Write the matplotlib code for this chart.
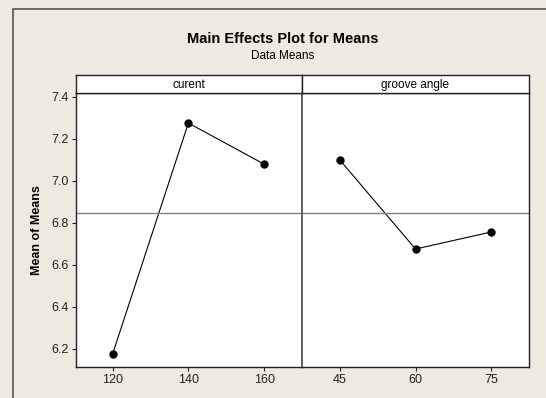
import matplotlib
matplotlib.use("Agg")
import matplotlib.pyplot as plt
from matplotlib.patches import Rectangle

current_levels = [120, 140, 160]
current_means = [6.176, 7.276, 7.08]
angle_levels = [45, 60, 75]
angle_means = [7.10, 6.676, 6.757]
grand_mean = 6.848
panel_names = ["curent", "groove angle"]
yticks = [6.2, 6.4, 6.6, 6.8, 7.0, 7.2, 7.4]

W, H = 546, 398
bg = "#EEEAE0"

plt.rcParams['font.family'] = ['Liberation Sans', 'DejaVu Sans']

fig = plt.figure(figsize=(W / 100, H / 100), dpi=100, facecolor=bg)

# outer frame (left and top edges visible)
fig.patches.append(Rectangle((13 / W, -0.1), 2, (H - 9) / H + 0.1, transform=fig.transFigure,
                             fill=False, edgecolor="#555555", linewidth=1.2))


def px_axes(x0, y0, x1, y1):
    return fig.add_axes([x0 / W, (H - y1) / H, (x1 - x0) / W, (y1 - y0) / H])


def panel(x0, x1, levels, means, xlim, name, first):
    ax = px_axes(x0, 93, x1, 367)
    ax.set_facecolor("white")
    ax.plot(levels, means, color="black", linewidth=0.8, marker="o", markersize=5)
    ax.axhline(grand_mean, color="#808080", linewidth=1.0)
    ax.set_xlim(*xlim)
    ax.set_ylim(6.114, 7.419)
    ax.set_xticks(levels)
    ax.set_yticks(yticks)
    ax.tick_params(length=3, width=0.8, labelsize=9, colors="#222222", pad=2)
    ax.tick_params(axis="y", left=first, labelleft=first)
    for s in ax.spines.values():
        s.set_color("#222222")
        s.set_linewidth(1.0)
    if not first:
        ax.spines["left"].set_color("#555555")
        ax.spines["left"].set_linewidth(1.3)
    else:
        ax.set_ylabel("Mean of Means", fontsize=9, fontweight="bold", labelpad=6)
    st = px_axes(x0, 75, x1, 93)
    st.set_facecolor("white")
    st.set_xticks([])
    st.set_yticks([])
    for s in st.spines.values():
        s.set_color("#222222")
        s.set_linewidth(1.0)
    st.text(0.5, 0.45, name, ha="center", va="center", fontsize=8.5, transform=st.transAxes)
    return ax


panel(75.5, 302, current_levels, current_means, (110.2, 170), panel_names[0], True)
panel(302, 528.5, angle_levels, angle_means, (37.5, 82.4), panel_names[1], False)

fig.text(283 / W, 1 - 39 / H, "Main Effects Plot for Means", ha="center", va="center",
         fontsize=10.5, fontweight="bold")
fig.text(283 / W, 1 - 56 / H, "Data Means", ha="center", va="center", fontsize=8.5)

fig.savefig("out.png", dpi=100, facecolor=bg)
